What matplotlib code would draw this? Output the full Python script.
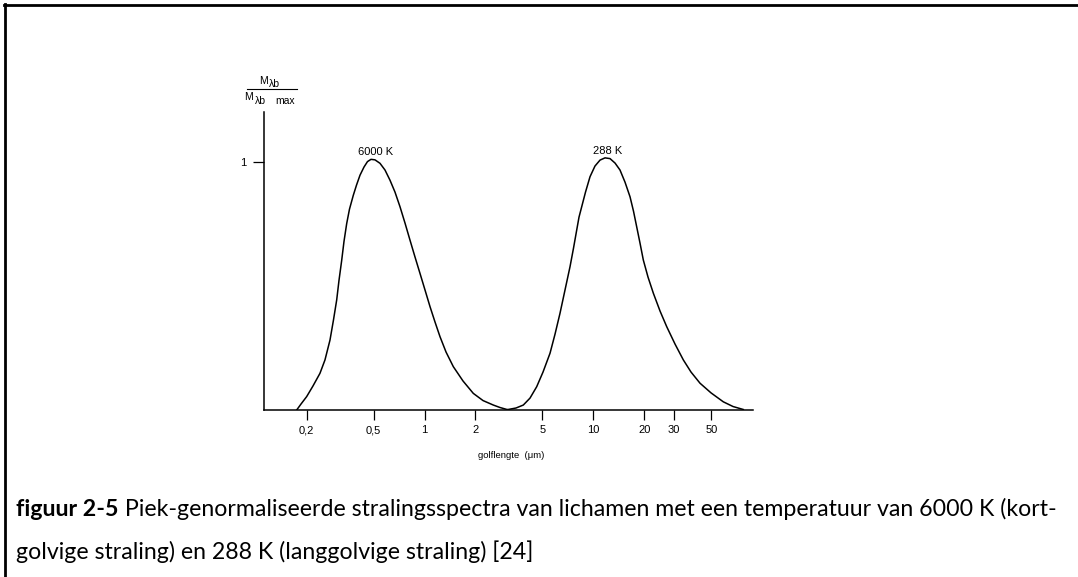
import numpy as np
import matplotlib
matplotlib.use('Agg')
import matplotlib.pyplot as plt
from matplotlib.lines import Line2D

# golflengte (um) en piek-genormaliseerde uitstraling
lam_6000 = [0.1749, 0.1855, 0.2004, 0.2185, 0.2403, 0.2573, 0.2755, 0.2889, 0.3019, 0.3114,
            0.3231, 0.3335, 0.3460, 0.3594, 0.3786, 0.3955, 0.4148, 0.4381, 0.4595, 0.4820,
            0.5089, 0.5450, 0.5834, 0.6245, 0.6686, 0.7158, 0.7665, 0.8206, 0.8786, 0.9404,
            1.007, 1.078, 1.154, 1.235, 1.341, 1.481, 1.691, 1.946, 2.222, 2.556,
            2.801, 3.082]
m_6000 = [0.0, 0.024, 0.054, 0.097, 0.148, 0.202, 0.282, 0.363, 0.444, 0.522,
          0.603, 0.680, 0.752, 0.810, 0.866, 0.907, 0.947, 0.980, 1.002, 1.011,
          1.009, 0.995, 0.968, 0.927, 0.879, 0.820, 0.754, 0.685, 0.617, 0.551,
          0.484, 0.417, 0.355, 0.296, 0.234, 0.175, 0.117, 0.067, 0.038, 0.020,
          0.010, 0.002]

lam_288 = [3.125, 3.484, 3.849, 4.217, 4.620, 5.035, 5.541, 5.932, 6.348, 6.797,
           7.278, 7.633, 7.974, 8.228, 8.537, 8.991, 9.561, 10.23, 10.96, 11.73,
           12.56, 13.45, 14.39, 15.41, 16.50, 17.30, 18.07, 18.91, 19.78, 21.09,
           22.68, 24.85, 27.22, 30.48, 34.14, 37.92, 42.87, 49.82, 58.90, 67.25,
           77.38]
m_288 = [0.002, 0.008, 0.020, 0.048, 0.094, 0.153, 0.229, 0.306, 0.390, 0.484,
         0.578, 0.653, 0.726, 0.778, 0.820, 0.879, 0.941, 0.984, 1.008, 1.017,
         1.014, 0.996, 0.968, 0.919, 0.860, 0.802, 0.739, 0.673, 0.605, 0.536,
         0.471, 0.399, 0.336, 0.266, 0.202, 0.153, 0.108, 0.069, 0.033, 0.014,
         0.002]

xticks = [0.2, 0.5, 1, 2, 5, 10, 20, 30, 50]
xticklabels = ['0,2', '0,5', '1', '2', '5', '10', '20', '30', '50']

W, H = 1078, 577
fig = plt.figure(figsize=(W/100, H/100), dpi=100)
plt.rcParams['font.family'] = ['Liberation Sans', 'DejaVu Sans']

ax = fig.add_axes([264/W, (H-410)/H, (753-264)/W, (410-112)/H])
ax.plot(lam_6000, m_6000, color='black', lw=1.1)
ax.plot(lam_288, m_288, color='black', lw=1.1)
ax.set_xscale('log')
ax.set_xlim(0.112, 88.3)
ax.set_ylim(0, 1.202)
ax.set_xticks(xticks)
ax.set_xticklabels(xticklabels)
ax.minorticks_off()
ax.set_yticks([1])
ax.set_yticklabels(['1'])
ax.tick_params(axis='x', length=7, width=0.9, pad=4, labelsize=8)
ax.tick_params(axis='y', length=8, width=0.9, pad=5, labelsize=8)
for s in ['top', 'right']:
    ax.spines[s].set_visible(False)
for s in ['left', 'bottom']:
    ax.spines[s].set_linewidth(1.1)
ax.set_facecolor('none')

ax.text(0.515, 1.040, '6000 K', ha='center', va='center', fontsize=8)
ax.text(12.1, 1.044, '288 K', ha='center', va='center', fontsize=8)

# as-label als breuk: M_lambda_b / M_lambda_b_max
fs_lab = 7.5
fig.text(259/W, 1-84/H, 'M', fontsize=fs_lab, va='baseline')
fig.text(269/W, 1-86.5/H, 'λb', fontsize=fs_lab, va='baseline')
fig.add_artist(Line2D([247/W, 297/W], [1-89/H, 1-89/H], color='black', lw=0.8))
fig.text(244.5/W, 1-99.5/H, 'M', fontsize=fs_lab, va='baseline')
fig.text(254.5/W, 1-104/H, 'λb', fontsize=fs_lab, va='baseline')
fig.text(275/W, 1-104.5/H, 'max', fontsize=fs_lab, va='baseline')

fig.text(511/W, 1-455/H, 'golflengte  (μm)', ha='center', va='center', fontsize=6.8)

# kader
fig.add_artist(Line2D([4/W, 1], [1-5/H, 1-5/H], color='black', lw=2))
fig.add_artist(Line2D([5/W, 5/W], [1-4/H, 0], color='black', lw=2))

# bijschrift
cap_font = ['Lato', 'DejaVu Sans']
line1_rest = ' Piek-genormaliseerde stralingsspectra van lichamen met een temperatuur van 6000 K (kort-'
line2 = 'golvige straling) en 288 K (langgolvige straling) [24]'

fs = 13
fig.canvas.draw()
r = fig.canvas.get_renderer()
tb = fig.text(16.5/W, 1-516/H, 'figuur 2-5', fontsize=fs, weight='bold', family=cap_font, va='baseline')
tr = fig.text(0, 1-516/H, line1_rest, fontsize=fs, family=cap_font, va='baseline')
wb = tb.get_window_extent(r).width
wr = tr.get_window_extent(r).width
fs = fs * (1054 - 16.5) / (wb + wr)
tb.set_fontsize(fs)
tr.set_fontsize(fs)
fig.canvas.draw()
bb = tb.get_window_extent(r)
tr.set_x(bb.x1/W)
fig.text(16.5/W, 1-559/H, line2, fontsize=fs, family=cap_font, va='baseline')

fig.savefig('out.png', dpi=100)
